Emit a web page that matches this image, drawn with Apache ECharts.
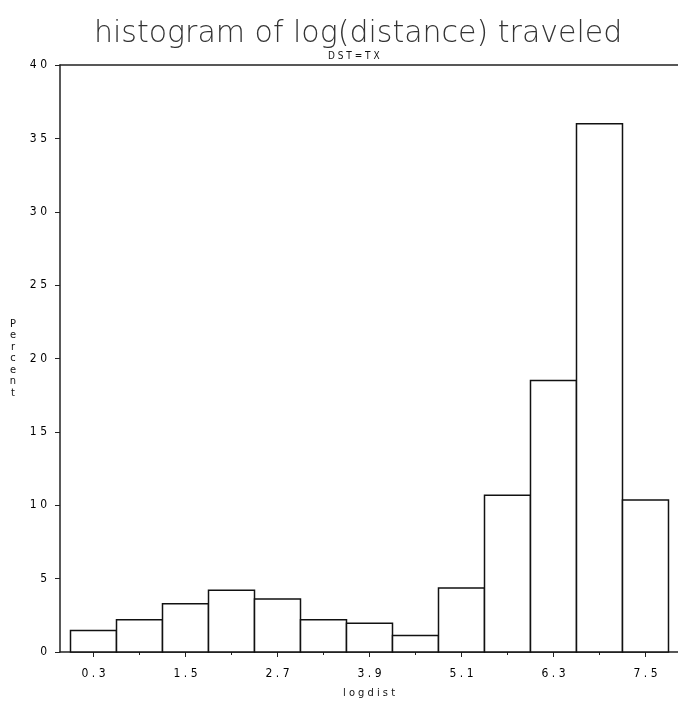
<!DOCTYPE html>
<html>
<head>
<meta charset="utf-8">
<script src="https://cdn.jsdelivr.net/npm/echarts@6/dist/echarts.min.js"></script>
<style>
  html, body { margin: 0; padding: 0; background: #fff; }
  #chart { width: 678px; height: 706px; }
</style>
</head>
<body>
<div id="chart"></div>
<script>
// Histogram bins of log(distance): midpoints and percent of trips in each bin
const binMidpoints = [0.3, 0.9, 1.5, 2.1, 2.7, 3.3, 3.9, 4.5, 5.1, 5.7, 6.3, 6.9, 7.5];
const percents = [1.46, 2.19, 3.29, 4.2, 3.61, 2.19, 1.96, 1.12, 4.36, 10.68, 18.5, 36.0, 10.36];
const binWidth = 0.6;

// Labelled (major) and unlabelled (minor) tick positions on the logdist axis
const majorTicks = [0.3, 1.5, 2.7, 3.9, 5.1, 6.3, 7.5];
const minorTicks = [0.9, 2.1, 3.3, 4.5, 5.7, 6.9];

const titleText = 'histogram of log(distance) traveled';
const subtitleText = 'DST=TX';
const xName = 'logdist';
const yName = 'Percent';

// Old line-printer look: characters spread apart
const spaced = s => String(s).split('').join(' ');

const labelFont = '"DejaVu Sans Condensed", "Liberation Sans Narrow", "DejaVu Sans", sans-serif';

const chart = echarts.init(document.getElementById('chart'), null, { renderer: 'canvas' });

chart.setOption({
  backgroundColor: '#fff',
  animation: false,
  title: [
    {
      text: titleText,
      left: 89,
      top: 14,
      textStyle: { fontFamily: '"DejaVu Sans", sans-serif', fontSize: 30, fontWeight: 200, color: '#333' }
    },
    {
      text: spaced(subtitleText),
      left: 323,
      top: 46,
      textStyle: { fontFamily: labelFont, fontSize: 10, fontWeight: 'normal', color: '#111' }
    }
  ],
  grid: { left: 60, right: 0, top: 65, bottom: 54, containLabel: false },
  xAxis: [
    {
      type: 'value',
      min: -0.137,
      max: 7.924,
      position: 'bottom',
      name: spaced(xName),
      nameLocation: 'middle',
      nameGap: 36,
      nameTextStyle: { fontFamily: labelFont, fontSize: 11, color: '#111' },
      axisLine: { show: true, onZero: false, lineStyle: { color: '#222', width: 1.5 } },
      axisTick: { show: true, inside: false, length: 5, customValues: majorTicks, lineStyle: { color: '#222' } },
      axisLabel: {
        show: true,
        margin: 16,
        customValues: majorTicks,
        formatter: v => spaced(v.toFixed(1)),
        fontFamily: labelFont, fontSize: 12, color: '#000'
      },
      splitLine: { show: false }
    },
    {
      type: 'value',
      min: -0.137,
      max: 7.924,
      position: 'bottom',
      axisLine: { show: false, onZero: false },
      axisTick: { show: true, inside: false, length: 3, customValues: minorTicks, lineStyle: { color: '#222' } },
      axisLabel: { show: false },
      splitLine: { show: false }
    },
    {
      type: 'value',
      min: -0.137,
      max: 7.924,
      position: 'top',
      axisLine: { show: true, onZero: false, lineStyle: { color: '#222', width: 1.5 } },
      axisTick: { show: false },
      axisLabel: { show: false },
      splitLine: { show: false }
    }
  ],
  yAxis: {
    type: 'value',
    min: 0,
    max: 40,
    interval: 5,
    name: yName.split('').join('\n'),
    nameLocation: 'middle',
    nameRotate: 0,
    nameGap: 47,
    nameTextStyle: { fontFamily: labelFont, fontSize: 11, color: '#111', lineHeight: 11.5, align: 'center' },
    axisLine: { show: true, onZero: false, lineStyle: { color: '#222', width: 1.5 } },
    axisTick: { show: true, inside: false, length: 5, lineStyle: { color: '#222' } },
    axisLabel: {
      margin: 13,
      formatter: v => spaced(v),
      fontFamily: labelFont, fontSize: 12, color: '#000'
    },
    splitLine: { show: false }
  },
  series: [
    {
      type: 'custom',
      xAxisIndex: 0,
      yAxisIndex: 0,
      data: binMidpoints.map((m, i) => [m, percents[i]]),
      renderItem: (params, api) => {
        const left = api.value(0) - binWidth / 2;
        const topLeft = api.coord([left, api.value(1)]);
        const bottomRight = api.coord([left + binWidth, 0]);
        return {
          type: 'rect',
          shape: {
            x: topLeft[0],
            y: topLeft[1],
            width: bottomRight[0] - topLeft[0],
            height: bottomRight[1] - topLeft[1]
          },
          style: { fill: '#fff', stroke: '#111', lineWidth: 1.5 }
        };
      }
    }
  ]
});
</script>
</body>
</html>
